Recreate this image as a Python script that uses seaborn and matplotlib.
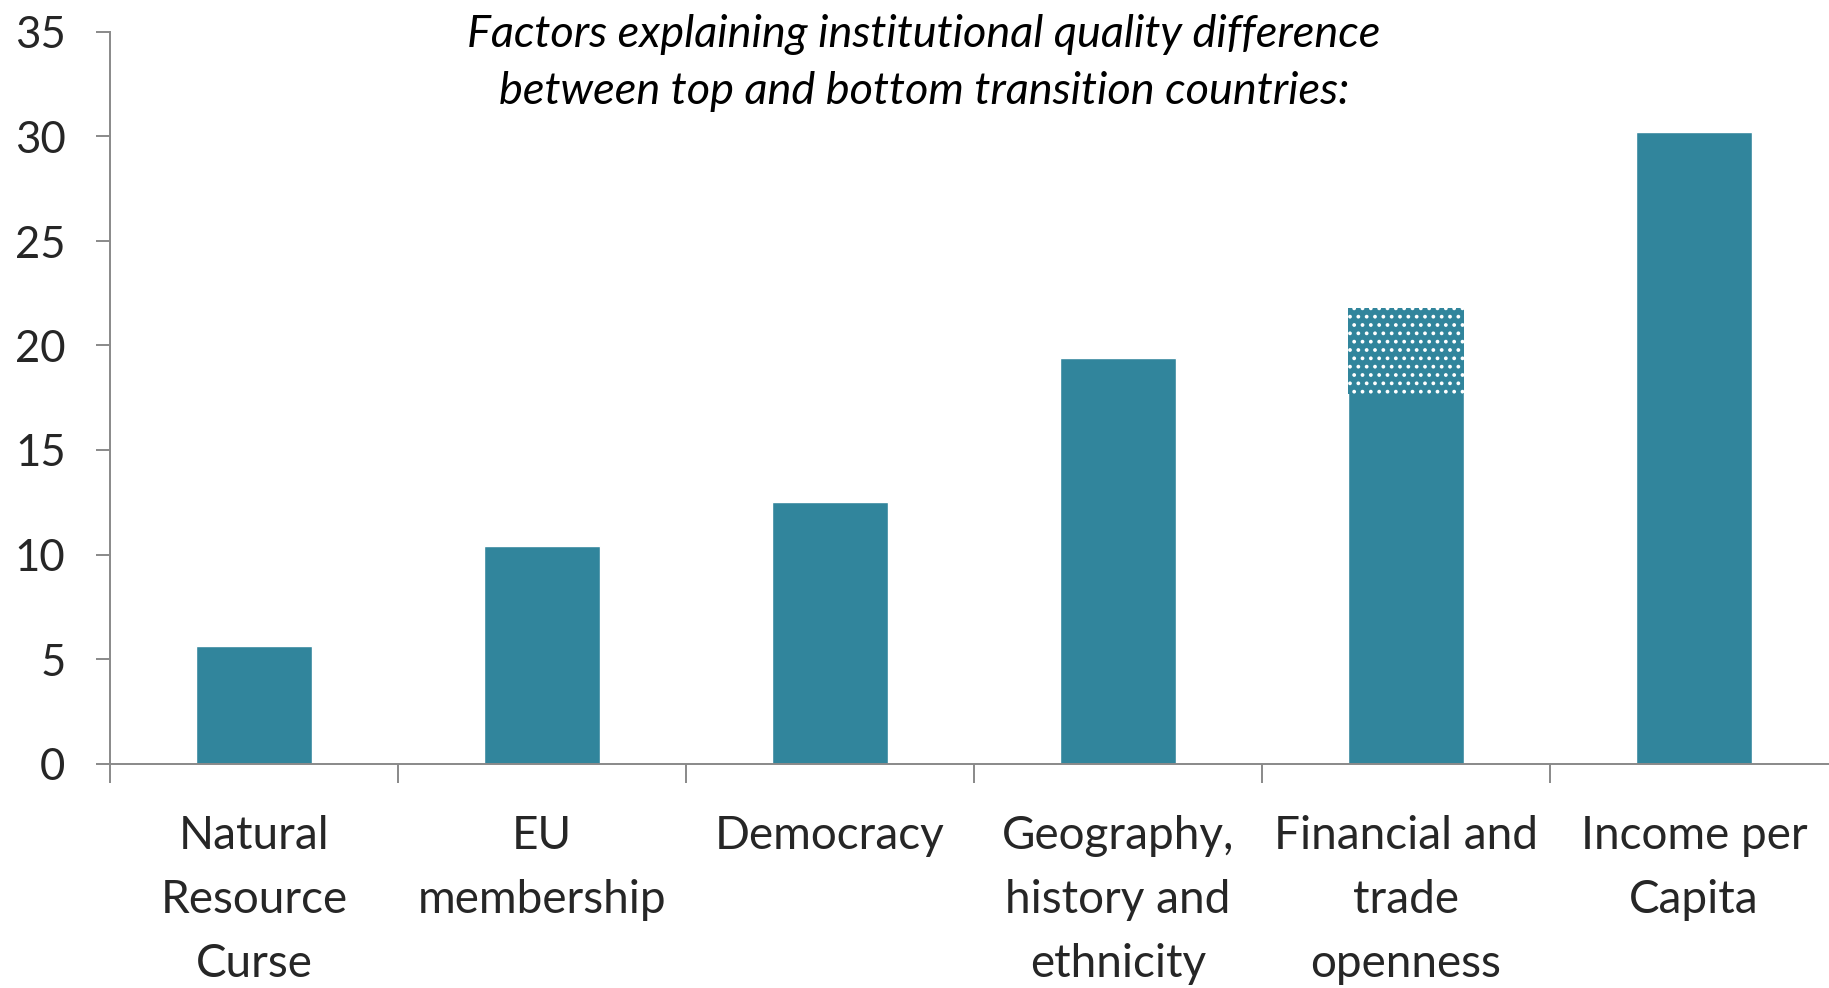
import numpy as np
import seaborn as sns
import matplotlib.pyplot as plt
from matplotlib import font_manager

categories = ["Natural\nResource\nCurse", "EU\nmembership", "Democracy",
              "Geography,\nhistory and\nethnicity", "Financial and\ntrade\nopenness",
              "Income per\nCapita"]
values = [5.6, 10.4, 12.5, 19.4, 21.8, 30.2]
# dotted (uncertain) part of the bar: lower edge of the dots, per category
dotted_from = [None, None, None, None, 17.7, None]
yticks = [0, 5, 10, 15, 20, 25, 30, 35]
title = ("Factors explaining institutional quality difference\n"
         "between top and bottom transition countries:")

teal = "#31859c"
grey = "#898989"

sns.set_theme(style="white")
names = {f.name for f in font_manager.fontManager.ttflist}
title_font = "Liberation Sans Narrow" if "Liberation Sans Narrow" in names else "Lato"
plt.rcParams["font.family"] = ["Lato", "DejaVu Sans"]
plt.rcParams["hatch.linewidth"] = 1.5

fig = plt.figure(figsize=(18.29, 9.88), dpi=100)
ax = fig.add_axes([110 / 1829, (988 - 763.5) / 988, 1728 / 1829, 731.5 / 988])

sns.barplot(x=list(range(len(categories))), y=values, color=teal, width=0.4,
            saturation=1, ax=ax)

for i, lo in enumerate(dotted_from):
    if lo is not None:
        ax.bar(i, values[i] - lo, bottom=lo, width=0.4, color=teal,
               hatch="..", edgecolor="white", linewidth=0)

ax.set_xlim(-0.5, len(categories) - 0.5)
ax.set_ylim(0, 35)
ax.set_yticks(yticks)
ax.set_yticklabels([str(t) for t in yticks])

# category labels sit between boundary ticks
ax.set_xticks(np.arange(-0.5, len(categories), 1.0))
ax.set_xticklabels([])
ax.set_xticks(range(len(categories)), minor=True)
ax.set_xticklabels(categories, minor=True, fontsize=33, linespacing=1.65,
                   multialignment="center")
ax.tick_params(axis="x", which="minor", length=0, pad=37)
ax.tick_params(axis="x", which="major", length=14, width=1.4, color=grey,
               direction="out", bottom=True)
ax.tick_params(axis="y", length=10, width=1.4, color=grey, direction="out",
               left=True, labelsize=31.5, pad=22)

for s in ["top", "right"]:
    ax.spines[s].set_visible(False)
for s in ["left", "bottom"]:
    ax.spines[s].set_color(grey)
    ax.spines[s].set_linewidth(1.4)

ax.set_xlabel("")
ax.set_ylabel("")

fig.text(924 / 1829, 1 - 63 / 988, title, ha="center", va="center",
         fontsize=32.5, style="italic", family=[title_font, "DejaVu Sans"],
         linespacing=1.5, color="black")

fig.savefig("out.png", dpi=100)
